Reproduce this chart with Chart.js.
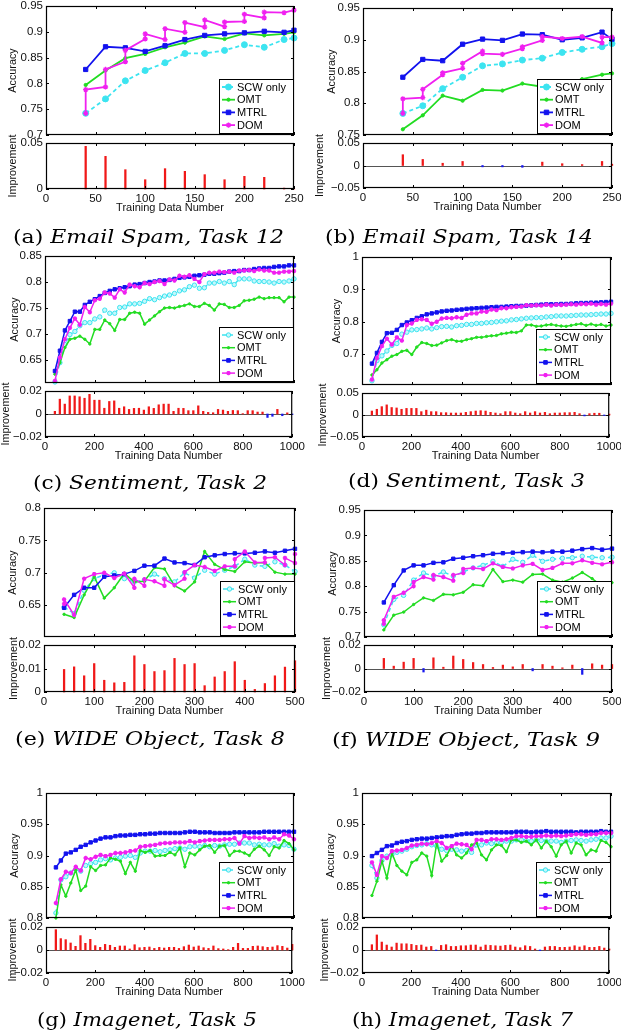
<!DOCTYPE html>
<html>
<head>
<meta charset="utf-8">
<script src="https://cdn.jsdelivr.net/npm/chart.js@4.4.0/dist/chart.umd.min.js"></script>
<style>
body { margin: 0; background: #fff; width: 621px; height: 1036px; position: relative; overflow: hidden; }
canvas { position: absolute; }
.cap { position: absolute; white-space: nowrap; font-family: "DejaVu Serif", serif; font-size: 18px; line-height: 22px; transform-origin: 0 50%; color: #000; }
.cap i { font-style: italic; }
</style>
</head>
<body>
<script>
// ---- x positions (training data number) ----
const x12 = [40, 60, 80, 100, 120, 140, 160, 180, 200, 220, 240, 250];
const x500 = [40, 60, 80, 100, 120, 140, 160, 180, 200, 220, 240, 260, 280, 300, 320, 340, 360, 380, 400, 420, 440, 460, 480, 500];
const x1000 = [40, 60, 80, 100, 120, 140, 160, 180, 200, 220, 240, 260, 280, 300, 320, 340, 360, 380, 400, 420, 440, 460, 480, 500,
  520, 540, 560, 580, 600, 620, 640, 660, 680, 700, 720, 740, 760, 780, 800, 820, 840, 860, 880, 900, 920, 940, 960, 980, 1000];

// ---- tick labels ----
const xTicks250 = [0, 50, 100, 150, 200, 250];
const xTicks500 = [0, 100, 200, 300, 400, 500];
const xTicks1000 = [0, 200, 400, 600, 800, 1000];
const accTicksA = [0.7, 0.75, 0.8, 0.85, 0.9, 0.95];
const accTicksB = [0.75, 0.8, 0.85, 0.9, 0.95];
const accTicksC = [0.65, 0.7, 0.75, 0.8, 0.85];
const accTicksD = [0.7, 0.8, 0.9, 1];
const accTicksE = [0.65, 0.7, 0.75, 0.8];
const accTicksF = [0.7, 0.75, 0.8, 0.85, 0.9, 0.95];
const accTicksG = [0.8, 0.85, 0.9, 0.95, 1];
const impTicks05 = [0, 0.05];
const impTicks05b = [-0.05, 0, 0.05];
const impTicks02 = [-0.02, 0, 0.02];
const impTicks02p = [0, 0.01, 0.02];

// ---- (a) Email Spam, Task 12 ----
const scwA = [0.742, 0.770, 0.805, 0.825, 0.840, 0.858, 0.858, 0.864, 0.875, 0.870, 0.885, 0.888];
const omtA = [0.797, 0.825, 0.849, 0.857, 0.870, 0.879, 0.891, 0.886, 0.897, 0.893, 0.896, 0.899];
const mtrlA = [0.827, 0.871, 0.869, 0.862, 0.873, 0.885, 0.893, 0.896, 0.898, 0.901, 0.899, 0.903];
const domXA = [40, 40, 60, 60, 80, 80, 100, 100, 120, 120, 140, 140, 160, 160, 180, 180, 200, 200, 220, 220, 240, 250];
const domYA = [0.742, 0.788, 0.793, 0.827, 0.842, 0.864, 0.886, 0.896, 0.885, 0.906, 0.899, 0.918, 0.909, 0.923, 0.910, 0.919, 0.920, 0.934, 0.927, 0.938, 0.937, 0.942];
const impA = [0.0464, 0.0355, 0.021, 0.0101, 0.0221, 0.0192, 0.0156, 0.0101, 0.0138, 0.0127, 0.001, 0];

// ---- (b) Email Spam, Task 14 ----
const scwB = [0.784, 0.796, 0.823, 0.841, 0.859, 0.862, 0.868, 0.871, 0.880, 0.885, 0.889, 0.894];
const omtB = [0.759, 0.781, 0.812, 0.804, 0.821, 0.820, 0.831, 0.826, 0.829, 0.838, 0.845, 0.847];
const mtrlB = [0.841, 0.869, 0.867, 0.893, 0.901, 0.899, 0.909, 0.908, 0.900, 0.903, 0.912, 0.901];
const domXB = [40, 40, 60, 60, 80, 80, 100, 100, 120, 120, 140, 160, 160, 180, 180, 200, 220, 240, 240, 250];
const domYB = [0.784, 0.807, 0.809, 0.822, 0.845, 0.848, 0.855, 0.863, 0.882, 0.878, 0.877, 0.886, 0.889, 0.899, 0.905, 0.902, 0.905, 0.895, 0.904, 0.904];
const impB = [0.024, 0.0135, 0.005, 0.009, -0.003, -0.003, -0.004, 0.0075, 0.004, 0.002, 0.009, 0.003];

// ---- (c) Sentiment, Task 2 ----
const scwC = [0.608, 0.645, 0.680, 0.699, 0.705, 0.716, 0.722, 0.722, 0.729, 0.733, 0.746, 0.740, 0.740, 0.751, 0.752, 0.758, 0.758, 0.759, 0.763, 0.768, 0.766, 0.770, 0.773, 0.775,
  0.778, 0.783, 0.785, 0.791, 0.794, 0.788, 0.789, 0.798, 0.798, 0.801, 0.798, 0.801, 0.795, 0.806, 0.806, 0.806, 0.802, 0.801, 0.801, 0.800, 0.798, 0.801, 0.800, 0.802, 0.806];
const omtC = [0.623, 0.645, 0.674, 0.690, 0.692, 0.696, 0.690, 0.681, 0.709, 0.709, 0.727, 0.720, 0.707, 0.728, 0.728, 0.740, 0.742, 0.740, 0.719, 0.727, 0.735, 0.743, 0.750, 0.751,
  0.750, 0.753, 0.755, 0.758, 0.753, 0.753, 0.759, 0.755, 0.746, 0.758, 0.757, 0.751, 0.751, 0.755, 0.764, 0.765, 0.767, 0.771, 0.768, 0.770, 0.770, 0.770, 0.762, 0.771, 0.771];
const mtrlC = [0.629, 0.668, 0.707, 0.725, 0.743, 0.743, 0.756, 0.762, 0.767, 0.773, 0.779, 0.783, 0.786, 0.788, 0.790, 0.792, 0.795, 0.796, 0.798, 0.800, 0.801, 0.803, 0.803, 0.804,
  0.806, 0.808, 0.809, 0.810, 0.812, 0.813, 0.814, 0.816, 0.816, 0.817, 0.818, 0.820, 0.821, 0.821, 0.823, 0.823, 0.825, 0.826, 0.827, 0.827, 0.829, 0.830, 0.830, 0.832, 0.832];
const domC = [0.610, 0.655, 0.690, 0.712, 0.730, 0.718, 0.752, 0.742, 0.765, 0.768, 0.780, 0.778, 0.770, 0.786, 0.780, 0.795, 0.792, 0.790, 0.798, 0.796, 0.800, 0.802, 0.796, 0.805,
  0.803, 0.812, 0.810, 0.813, 0.806, 0.800, 0.815, 0.818, 0.818, 0.820, 0.819, 0.820, 0.818, 0.822, 0.822, 0.823, 0.821, 0.824, 0.822, 0.822, 0.818, 0.818, 0.820, 0.820, 0.821];
const impC = [0.0023, 0.0129, 0.0086, 0.0157, 0.0157, 0.015, 0.0137, 0.0171, 0.012, 0.012, 0.005, 0.0109, 0.0114, 0.005, 0.0063, 0.004, 0.0049, 0.005, 0.0034, 0.0063, 0.0049, 0.008, 0.0086, 0.0086,
  0.0023, 0.005, 0.0049, 0.0029, 0.0029, 0.0071, 0.0023, 0.0014, 0.0011, 0.004, 0.0034, 0.0023, 0.0031, 0.0029, 0.0003, 0.0029, 0.0029, 0.0017, 0.0017, -0.003, -0.002, 0.004, -0.0015, 0.001, -0.0005];

// ---- (d) Sentiment, Task 3 ----
const scwD = [0.618, 0.680, 0.695, 0.710, 0.727, 0.733, 0.762, 0.768, 0.775, 0.776, 0.778, 0.781, 0.778, 0.782, 0.785, 0.786, 0.784, 0.788, 0.789, 0.792, 0.792, 0.795, 0.795, 0.797,
  0.798, 0.800, 0.802, 0.803, 0.806, 0.807, 0.809, 0.811, 0.812, 0.813, 0.813, 0.815, 0.816, 0.818, 0.818, 0.818, 0.819, 0.820, 0.821, 0.821, 0.822, 0.823, 0.824, 0.824, 0.826];
const omtD = [0.636, 0.652, 0.673, 0.683, 0.694, 0.699, 0.709, 0.712, 0.699, 0.722, 0.736, 0.733, 0.727, 0.728, 0.735, 0.742, 0.745, 0.740, 0.740, 0.745, 0.748, 0.752, 0.752, 0.755,
  0.757, 0.758, 0.763, 0.765, 0.768, 0.767, 0.772, 0.790, 0.790, 0.786, 0.787, 0.790, 0.792, 0.789, 0.787, 0.786, 0.789, 0.792, 0.794, 0.789, 0.793, 0.789, 0.792, 0.787, 0.790];
const mtrlD = [0.671, 0.704, 0.738, 0.765, 0.766, 0.775, 0.790, 0.798, 0.805, 0.812, 0.817, 0.823, 0.826, 0.829, 0.832, 0.834, 0.835, 0.837, 0.838, 0.840, 0.841, 0.842, 0.843, 0.844,
  0.845, 0.846, 0.846, 0.847, 0.848, 0.849, 0.849, 0.850, 0.851, 0.852, 0.853, 0.854, 0.854, 0.854, 0.855, 0.855, 0.856, 0.857, 0.858, 0.858, 0.859, 0.859, 0.860, 0.861, 0.862];
const domD = [0.622, 0.688, 0.725, 0.748, 0.730, 0.752, 0.742, 0.790, 0.795, 0.806, 0.808, 0.806, 0.794, 0.800, 0.810, 0.812, 0.811, 0.814, 0.812, 0.822, 0.826, 0.826, 0.832, 0.831,
  0.838, 0.836, 0.842, 0.842, 0.845, 0.846, 0.847, 0.851, 0.850, 0.851, 0.850, 0.853, 0.850, 0.853, 0.852, 0.853, 0.854, 0.853, 0.855, 0.854, 0.856, 0.853, 0.855, 0.853, 0.856];
const impD = [0.009, 0.013, 0.019, 0.023, 0.017, 0.016, 0.013, 0.015, 0.015, 0.015, 0.0076, 0.011, 0.0076, 0.0076, 0.0053, 0.0053, 0.0045, 0.0045, 0.0045, 0.006, 0.0076, 0.009, 0.0098, 0.009,
  0.006, 0.0045, 0.003, 0.0076, 0.0076, 0.0045, 0.003, 0.0076, 0.0045, 0.0076, 0.0045, 0.006, 0.003, 0.0045, 0.0045, 0.0053, 0.0053, 0.006, 0.003, -0.002, 0.003, 0.004, 0.004, -0.001, 0.002];

// ---- (e) WIDE Object, Task 8 ----
const scwE = [0.647, 0.637, 0.673, 0.691, 0.697, 0.700, 0.691, 0.686, 0.689, 0.698, 0.691, 0.686, 0.700, 0.692, 0.704, 0.698, 0.704, 0.710, 0.721, 0.712, 0.710, 0.717, 0.712, 0.702];
const omtE = [0.636, 0.631, 0.666, 0.694, 0.661, 0.677, 0.699, 0.686, 0.687, 0.708, 0.706, 0.680, 0.672, 0.686, 0.733, 0.713, 0.705, 0.702, 0.717, 0.715, 0.716, 0.701, 0.698, 0.698];
const mtrlE = [0.646, 0.666, 0.677, 0.677, 0.694, 0.696, 0.698, 0.703, 0.711, 0.711, 0.722, 0.716, 0.715, 0.712, 0.724, 0.727, 0.729, 0.730, 0.730, 0.731, 0.733, 0.731, 0.734, 0.737];
const domXE = [40, 40, 60, 80, 100, 120, 140, 160, 180, 180, 200, 200, 220, 240, 240, 260, 280, 280, 300, 320, 340, 360, 380, 380, 400, 420, 440, 440, 460, 480, 480, 500, 500];
const domYE = [0.652, 0.659, 0.635, 0.691, 0.698, 0.700, 0.692, 0.699, 0.677, 0.691, 0.680, 0.690, 0.687, 0.680, 0.690, 0.681, 0.691, 0.701, 0.712, 0.709,
  0.703, 0.710, 0.710, 0.721, 0.733, 0.716, 0.716, 0.723, 0.724, 0.712, 0.723, 0.715, 0.729];
const impE = [0.0096, 0.0107, 0.0069, 0.0121, 0.005, 0.0039, 0.0041, 0.0154, 0.0117, 0.0087, 0.0091, 0.0143, 0.0117, 0.0121, 0.0027, 0.0064, 0.0087, 0.0129, 0.005, 0.0011, 0.0036, 0.0069, 0.0106, 0.0133];

// ---- (f) WIDE Object, Task 9 ----
const scwF = [0.724, 0.774, 0.782, 0.812, 0.826, 0.820, 0.828, 0.820, 0.828, 0.836, 0.841, 0.849, 0.839, 0.853, 0.847, 0.861, 0.849, 0.853, 0.855, 0.856, 0.859, 0.857, 0.856, 0.857];
const omtF = [0.714, 0.743, 0.749, 0.764, 0.777, 0.772, 0.784, 0.783, 0.788, 0.803, 0.801, 0.833, 0.809, 0.812, 0.808, 0.823, 0.824, 0.812, 0.808, 0.816, 0.827, 0.815, 0.800, 0.807];
const mtrlF = [0.768, 0.802, 0.831, 0.841, 0.841, 0.846, 0.847, 0.854, 0.856, 0.859, 0.861, 0.864, 0.865, 0.866, 0.867, 0.868, 0.867, 0.868, 0.868, 0.870, 0.873, 0.875, 0.872, 0.874];
const domXF = [40, 40, 60, 80, 100, 100, 120, 140, 140, 160, 180, 180, 200, 200, 220, 240, 260, 280, 300, 320, 340, 360, 380, 400, 420, 440, 460, 480, 500];
const domYF = [0.726, 0.733, 0.779, 0.787, 0.800, 0.808, 0.818, 0.813, 0.822, 0.818, 0.811, 0.822, 0.826, 0.834, 0.836, 0.834, 0.845, 0.838, 0.835, 0.841,
  0.844, 0.832, 0.836, 0.845, 0.845, 0.851, 0.846, 0.843, 0.847];
const impF = [0.0086, 0.002, 0.0054, 0.0086, -0.003, 0.0091, 0.0011, 0.0106, 0.0077, 0.0051, 0.0034, 0.0009, 0.0029, 0.0014, 0.0034, -0.002, 0.0034, 0.002, 0.0006, 0.0029, -0.005, 0.004, 0.0029, 0.0034];

// ---- (g) Imagenet, Task 5 ----
const scwG = [0.808, 0.861, 0.866, 0.872, 0.878, 0.875, 0.884, 0.887, 0.889, 0.893, 0.895, 0.893, 0.896, 0.897, 0.899, 0.900, 0.897, 0.904, 0.907, 0.907, 0.908, 0.906, 0.908, 0.909,
  0.911, 0.912, 0.910, 0.914, 0.915, 0.914, 0.916, 0.914, 0.916, 0.915, 0.917, 0.918, 0.918, 0.920, 0.920, 0.920, 0.917, 0.918, 0.917, 0.917, 0.919, 0.915, 0.917, 0.916, 0.910];
const omtG = [0.800, 0.853, 0.835, 0.856, 0.877, 0.844, 0.851, 0.882, 0.876, 0.884, 0.885, 0.896, 0.894, 0.891, 0.871, 0.889, 0.875, 0.908, 0.905, 0.908, 0.899, 0.900, 0.900, 0.905,
  0.901, 0.912, 0.882, 0.904, 0.901, 0.909, 0.915, 0.916, 0.905, 0.915, 0.916, 0.900, 0.907, 0.907, 0.904, 0.900, 0.910, 0.915, 0.909, 0.900, 0.914, 0.912, 0.924, 0.919, 0.909];
const mtrlG = [0.881, 0.892, 0.903, 0.905, 0.909, 0.914, 0.917, 0.921, 0.924, 0.927, 0.929, 0.929, 0.931, 0.932, 0.932, 0.933, 0.933, 0.934, 0.934, 0.935, 0.935, 0.936, 0.936, 0.936,
  0.936, 0.936, 0.937, 0.938, 0.938, 0.937, 0.937, 0.937, 0.936, 0.936, 0.936, 0.936, 0.937, 0.937, 0.937, 0.937, 0.937, 0.937, 0.938, 0.938, 0.938, 0.938, 0.938, 0.938, 0.938];
const domG = [0.824, 0.862, 0.874, 0.872, 0.882, 0.876, 0.896, 0.894, 0.898, 0.901, 0.899, 0.901, 0.904, 0.904, 0.905, 0.907, 0.908, 0.914, 0.915, 0.916, 0.917, 0.919, 0.920, 0.920,
  0.921, 0.921, 0.921, 0.923, 0.921, 0.923, 0.924, 0.925, 0.925, 0.925, 0.926, 0.926, 0.928, 0.919, 0.931, 0.928, 0.929, 0.928, 0.929, 0.926, 0.929, 0.926, 0.934, 0.932, 0.926];
const impG = [0.0177, 0.0099, 0.009, 0.0061, 0.0032, 0.0125, 0.0058, 0.0093, 0.0038, 0.0023, 0.0049, 0.0041, 0.0023, 0.0035, 0.0035, 0.0009, 0.0046, 0.002, 0.0023, 0.0026, 0.0014, 0.0023, 0.0017, 0.0023,
  0.0023, 0.0014, 0.0029, 0.0043, 0.0026, 0.0035, 0.002, 0.0014, 0.0035, 0.0012, 0.0009, 0.0003, 0.0023, 0.0058, 0.0014, 0.0014, 0.0032, 0.0035, 0.0029, 0.0023, 0.0026, 0.0038, 0.0032, 0.0017, 0.0049];

// ---- (h) Imagenet, Task 7 ----
const scwH = [0.884, 0.864, 0.892, 0.899, 0.901, 0.905, 0.907, 0.910, 0.914, 0.916, 0.917, 0.919, 0.917, 0.915, 0.910, 0.908, 0.910, 0.909, 0.907, 0.908, 0.905, 0.917, 0.917, 0.920,
  0.919, 0.920, 0.921, 0.923, 0.923, 0.925, 0.925, 0.924, 0.923, 0.925, 0.924, 0.923, 0.923, 0.923, 0.921, 0.923, 0.924, 0.925, 0.924, 0.923, 0.925, 0.926, 0.928, 0.928, 0.931];
const omtH = [0.836, 0.859, 0.891, 0.864, 0.904, 0.884, 0.875, 0.869, 0.889, 0.893, 0.904, 0.899, 0.868, 0.920, 0.891, 0.900, 0.915, 0.901, 0.896, 0.904, 0.917, 0.920, 0.901, 0.893,
  0.909, 0.917, 0.916, 0.906, 0.925, 0.925, 0.921, 0.923, 0.917, 0.925, 0.912, 0.923, 0.914, 0.899, 0.917, 0.923, 0.904, 0.920, 0.917, 0.901, 0.909, 0.907, 0.924, 0.921, 0.914];
const mtrlH = [0.899, 0.904, 0.909, 0.915, 0.916, 0.920, 0.922, 0.923, 0.925, 0.926, 0.927, 0.927, 0.928, 0.929, 0.930, 0.931, 0.931, 0.933, 0.934, 0.935, 0.935, 0.936, 0.936, 0.937,
  0.937, 0.937, 0.937, 0.937, 0.937, 0.938, 0.938, 0.938, 0.937, 0.938, 0.938, 0.939, 0.938, 0.938, 0.938, 0.938, 0.938, 0.937, 0.938, 0.938, 0.938, 0.938, 0.939, 0.938, 0.938];
const domH = [0.889, 0.869, 0.899, 0.896, 0.907, 0.908, 0.909, 0.912, 0.916, 0.917, 0.919, 0.918, 0.920, 0.923, 0.920, 0.912, 0.915, 0.919, 0.918, 0.917, 0.910, 0.925, 0.925, 0.923,
  0.926, 0.926, 0.925, 0.926, 0.928, 0.931, 0.931, 0.930, 0.930, 0.931, 0.931, 0.932, 0.931, 0.932, 0.931, 0.932, 0.933, 0.934, 0.934, 0.933, 0.934, 0.934, 0.936, 0.936, 0.936];
const impH = [0.0046, 0.0131, 0.0069, 0.0043, 0.0026, 0.006, 0.0054, 0.0054, 0.0049, 0.004, 0.0043, 0.0026, 0.0031, -0.0005, 0.004, 0.0046, 0.0031, 0.0031, 0.0037, 0.0037, 0.0043, 0.0043, 0.0026, 0.0043,
  0.004, 0.0037, 0.0034, 0.004, 0.0043, 0.0026, 0.002, 0.0037, 0.0031, 0.0009, -0.0005, 0.0026, 0.0031, 0.0031, 0.0023, 0.0023, 0.0026, 0.0037, 0.0026, 0.0037, 0.0023, 0.0023, 0.0031, 0.0017, 0.0009];

const names = ['SCW only', 'OMT', 'MTRL', 'DOM'];

// layout: box = [left, right, accTop, accBottom, impTop, impBottom], offs = y title distance from box
const panels = [
  { xs: x12, scw: scwA, omt: omtA, mtrl: mtrlA, domX: domXA, domY: domYA, imp: impA, xMax: 250, xTicks: xTicks250,
    acc: [0.7, 0.95], accTicks: accTicksA, impR: [0, 0.05], impTicks: impTicks05, box: [46, 294, 6, 135, 143, 189], offs: [33, 33], big: true,
    cap: ['(a)', 'Email Spam, Task 12', 13, 284, 237] },
  { xs: x12, scw: scwB, omt: omtB, mtrl: mtrlB, domX: domXB, domY: domYB, imp: impB, xMax: 250, xTicks: xTicks250,
    acc: [0.75, 0.95], accTicks: accTicksB, impR: [-0.05, 0.05], impTicks: impTicks05b, box: [363, 612, 8, 135, 143, 188], offs: [31, 43], big: true, zero: true,
    cap: ['(b)', 'Email Spam, Task 14', 325, 593, 237] },
  { xs: x1000, scw: scwC, omt: omtC, mtrl: mtrlC, domX: x1000, domY: domC, imp: impC, xMax: 1000, xTicks: xTicks1000,
    acc: [0.606, 0.85], accTicks: accTicksC, impR: [-0.02, 0.02], impTicks: impTicks02, box: [45, 294, 256, 383, 391, 437], offs: [30, 39], zero: true,
    cap: ['(c)', 'Sentiment, Task 2', 33, 267, 483] },
  { xs: x1000, scw: scwD, omt: omtD, mtrl: mtrlD, domX: x1000, domY: domD, imp: impD, xMax: 1000, xTicks: xTicks1000,
    acc: [0.605, 1], accTicks: accTicksD, impR: [-0.05, 0.05], impTicks: impTicks05b, box: [362, 611, 257, 385, 393, 437], offs: [25, 39], zero: true,
    cap: ['(d)', 'Sentiment, Task 3', 348, 585, 481] },
  { xs: x500, scw: scwE, omt: omtE, mtrl: mtrlE, domX: domXE, domY: domYE, imp: impE, xMax: 500, xTicks: xTicks500,
    acc: [0.601, 0.8], accTicks: accTicksE, impR: [0, 0.02], impTicks: impTicks02p, box: [44, 295, 508, 637, 645, 692], offs: [31, 30],
    cap: ['(e)', 'WIDE Object, Task 8', 15, 285, 739] },
  { xs: x500, scw: scwF, omt: omtF, mtrl: mtrlF, domX: domXF, domY: domYF, imp: impF, xMax: 500, xTicks: xTicks500,
    acc: [0.7, 0.95], accTicks: accTicksF, impR: [-0.02, 0.02], impTicks: impTicks02, box: [364, 612, 510, 637, 645, 692], offs: [31, 37], zero: true,
    cap: ['(f)', 'WIDE Object, Task 9', 332, 600, 740] },
  { xs: x1000, scw: scwG, omt: omtG, mtrl: mtrlG, domX: x1000, domY: domG, imp: impG, xMax: 1000, xTicks: xTicks1000,
    acc: [0.8, 1], accTicks: accTicksG, impR: [-0.02, 0.02], impTicks: impTicks02, box: [46, 294, 793, 918, 927, 973], offs: [31, 33], zero: true,
    cap: ['(g)', 'Imagenet, Task 5', 37, 257, 1020] },
  { xs: x1000, scw: scwH, omt: omtH, mtrl: mtrlH, domX: x1000, domY: domH, imp: impH, xMax: 1000, xTicks: xTicks1000,
    acc: [0.8, 1], accTicks: accTicksG, impR: [-0.02, 0.02], impTicks: impTicks02, box: [362, 611, 793, 918, 927, 973], offs: [31, 37], zero: true,
    cap: ['(h)', 'Imagenet, Task 7', 352, 573, 1020] }
];

const FONT = 'Liberation Sans, Arial, Helvetica, sans-serif';
Chart.defaults.font.family = FONT;
Chart.defaults.color = '#111';

const COL = { scw: '#3ce4f0', omt: '#22dc22', mtrl: '#1212ee', dom: '#f020f0', up: '#f01818', down: '#1818ee' };
const AX = 50, PT = 10, PR = 14, PB = 10, XH = 26;

const fmt = v => String(Math.round(v * 1000) / 1000).replace('-', '\u2212');
const pts = (xs, ys) => ys.map((y, i) => ({ x: xs[i], y }));

function mark(ctx, style, r, x, y, stroke, fill, lw) {
  ctx.beginPath();
  ctx.lineWidth = lw; ctx.strokeStyle = stroke; ctx.fillStyle = fill;
  if (style === 'rect') {
    ctx.rect(x - r * 0.75, y - r * 0.75, r * 1.5, r * 1.5); ctx.fill(); ctx.stroke();
  } else if (style === 'star') {
    for (let k = 0; k < 4; k++) {
      const a = k * Math.PI / 4;
      ctx.moveTo(x - r * Math.cos(a), y - r * Math.sin(a));
      ctx.lineTo(x + r * Math.cos(a), y + r * Math.sin(a));
    }
    ctx.stroke();
  } else {
    ctx.arc(x, y, r, 0, Math.PI * 2); ctx.fill(); ctx.stroke();
  }
}

// matlab-like frame: box, inward ticks, rotated y title, zero line, legend
const frame = {
  id: 'frame',
  beforeDatasetsDraw(chart, args, o) {
    if (!o.zero) return;
    const { ctx, chartArea: c } = chart;
    const y = Math.round(chart.scales.y.getPixelForValue(0)) + 0.5;
    ctx.save();
    ctx.strokeStyle = '#555'; ctx.lineWidth = 1;
    ctx.beginPath(); ctx.moveTo(c.left, y); ctx.lineTo(c.right, y); ctx.stroke();
    ctx.restore();
  },
  afterDatasetsDraw(chart, args, o) {
    const { ctx, chartArea: c } = chart;
    const xs = chart.scales.x, ys = chart.scales.y;
    ctx.save();
    ctx.strokeStyle = '#000'; ctx.lineWidth = 1;
    ctx.beginPath();
    o.xTicks.forEach(v => {
      const px = Math.round(xs.getPixelForValue(v)) + 0.5;
      ctx.moveTo(px, c.bottom); ctx.lineTo(px, c.bottom - 3);
      ctx.moveTo(px, c.top); ctx.lineTo(px, c.top + 3);
    });
    o.yTicks.forEach(v => {
      const py = Math.round(ys.getPixelForValue(v)) + 0.5;
      ctx.moveTo(c.left, py); ctx.lineTo(c.left + 3, py);
      ctx.moveTo(c.right, py); ctx.lineTo(c.right - 3, py);
    });
    ctx.stroke();
    ctx.lineWidth = 1.2;
    ctx.strokeRect(c.left + 0.5, c.top + 0.5, c.right - c.left - 1, c.bottom - c.top - 1);

    if (o.legend) {
      const w = 74, h = 54, x0 = Math.round(c.right - 1 - w), y0 = Math.round(c.bottom - 2 - h);
      ctx.fillStyle = '#fff'; ctx.fillRect(x0, y0, w, h);
      ctx.lineWidth = 1; ctx.strokeStyle = '#000'; ctx.strokeRect(x0 + 0.5, y0 + 0.5, w, h);
      chart.data.datasets.forEach((d, i) => {
        const y = y0 + 8 + i * 12.7;
        ctx.setLineDash(d.borderDash || []);
        ctx.strokeStyle = d.borderColor; ctx.lineWidth = d.borderWidth;
        ctx.beginPath(); ctx.moveTo(x0 + 3, y); ctx.lineTo(x0 + 16, y); ctx.stroke();
        ctx.setLineDash([]);
        mark(ctx, d.pointStyle, d.pointRadius, x0 + 9.5, y, d.pointBorderColor, d.pointBackgroundColor, d.pointBorderWidth);
        ctx.fillStyle = '#000'; ctx.font = '11px ' + FONT;
        ctx.textAlign = 'left'; ctx.textBaseline = 'middle';
        ctx.fillText(d.label, x0 + 18, y + 0.5);
      });
    }

    ctx.translate(c.left - o.off, (c.top + c.bottom) / 2);
    ctx.rotate(-Math.PI / 2);
    ctx.fillStyle = '#111'; ctx.font = '10.8px ' + FONT;
    ctx.textAlign = 'center'; ctx.textBaseline = 'middle';
    ctx.fillText(o.title, 0, 0);
    ctx.restore();
  }
};

function yScale(range, ticks) {
  return {
    type: 'linear', min: range[0], max: range[1],
    afterBuildTicks: s => { s.ticks = ticks.map(v => ({ value: v })); },
    afterFit: s => { s.width = AX; },
    grid: { display: false, drawTicks: false }, border: { display: false },
    ticks: { autoSkip: false, padding: 3, font: { size: 11.5 }, color: '#111', callback: fmt }
  };
}

function lineSets(p) {
  const big = !!p.big;
  const lw = big ? 1.8 : 1.5;
  return [
    { label: names[0], data: pts(p.xs, p.scw), borderColor: COL.scw, borderWidth: lw, borderDash: [4, 3],
      pointStyle: 'circle', pointRadius: big ? 3 : 2.2, pointBorderColor: COL.scw, pointBackgroundColor: big ? COL.scw : '#c4f7fb', pointBorderWidth: 1, order: 4 },
    { label: names[1], data: pts(p.xs, p.omt), borderColor: COL.omt, borderWidth: lw,
      pointStyle: 'circle', pointRadius: big ? 1.6 : 1.2, pointBorderColor: COL.omt, pointBackgroundColor: COL.omt, pointBorderWidth: 1, order: 3 },
    { label: names[2], data: pts(p.xs, p.mtrl), borderColor: COL.mtrl, borderWidth: lw,
      pointStyle: 'rect', pointRadius: big ? 3 : 2.4, pointBorderColor: COL.mtrl, pointBackgroundColor: COL.mtrl, pointBorderWidth: 1, order: 2 },
    { label: names[3], data: pts(p.domX, p.domY), borderColor: COL.dom, borderWidth: lw,
      pointStyle: 'star', pointRadius: big ? 2.6 : 2.2, pointBorderColor: COL.dom, pointBackgroundColor: COL.dom, pointBorderWidth: 1.3, order: 1 }
  ].map(d => Object.assign(d, { clip: false, fill: false, tension: 0 }));
}

function addCanvas(l, t, w, h) {
  const c = document.createElement('canvas');
  c.width = w; c.height = h;
  c.style.left = l + 'px'; c.style.top = t + 'px';
  c.style.width = w + 'px'; c.style.height = h + 'px';
  document.body.appendChild(c);
  return c;
}

function drawPanel(p) {
  const [l, r, t1, b1, t2, b2] = p.box;
  const W = AX + (r - l) + PR;

  const c1 = addCanvas(l - AX, t1 - PT, W, PT + (b1 - t1) + PB);
  new Chart(c1, {
    type: 'line',
    data: { datasets: lineSets(p) },
    options: {
      responsive: false, animation: false, events: [],
      layout: { padding: { left: 0, top: PT, right: PR, bottom: PB } },
      scales: {
        x: { type: 'linear', display: false, min: 0, max: p.xMax },
        y: yScale(p.acc, p.accTicks)
      },
      plugins: {
        legend: { display: false }, tooltip: { enabled: false },
        frame: { xTicks: p.xTicks, yTicks: p.accTicks, title: 'Accuracy', off: p.offs[0], legend: true }
      }
    },
    plugins: [frame]
  });

  const c2 = addCanvas(l - AX, t2 - PT, W, PT + (b2 - t2) + XH + 4);
  new Chart(c2, {
    type: 'bar',
    data: {
      datasets: [{
        data: pts(p.xs, p.imp),
        backgroundColor: p.imp.map(v => v >= 0 ? COL.up : COL.down),
        barThickness: 1.6, borderWidth: 0, clip: false
      }]
    },
    options: {
      responsive: false, animation: false, events: [],
      layout: { padding: { left: 0, top: PT, right: PR, bottom: 4 } },
      scales: {
        x: {
          type: 'linear', offset: false, min: 0, max: p.xMax,
          afterBuildTicks: s => { s.ticks = p.xTicks.map(v => ({ value: v })); },
          afterFit: s => { s.height = XH; },
          grid: { display: false, drawTicks: false }, border: { display: false },
          ticks: { autoSkip: false, maxRotation: 0, padding: 3, font: { size: 11.5 }, color: '#111', callback: fmt },
          title: { display: true, text: 'Training Data Number', font: { size: 11 }, color: '#111', padding: 0 }
        },
        y: yScale(p.impR, p.impTicks)
      },
      plugins: {
        legend: { display: false }, tooltip: { enabled: false },
        frame: { xTicks: p.xTicks, yTicks: p.impTicks, title: 'Improvement', off: p.offs[1], zero: !!p.zero }
      }
    },
    plugins: [frame]
  });

  const [tag, txt, cl, cr, cy] = p.cap;
  const d = document.createElement('div');
  d.className = 'cap';
  d.innerHTML = tag + ' <i>' + txt + '</i>';
  d.style.left = cl + 'px'; d.style.top = (cy - 11) + 'px';
  document.body.appendChild(d);
  const w = d.getBoundingClientRect().width;
  d.style.transform = 'scaleX(' + ((cr - cl) / w).toFixed(3) + ')';
}

panels.forEach(drawPanel);
</script>
</body>
</html>
